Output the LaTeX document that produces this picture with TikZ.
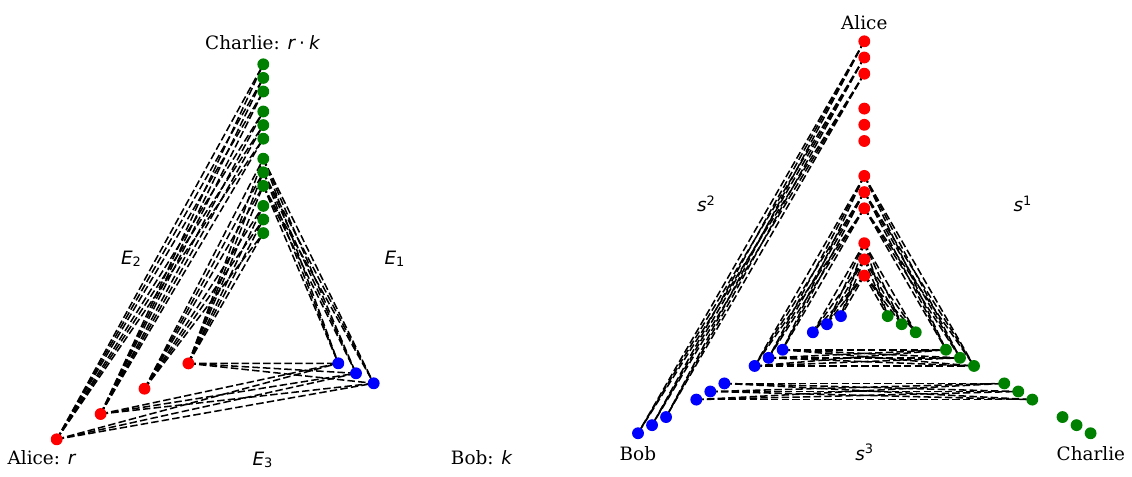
\documentclass[tikz,border=0pt]{standalone}
\usepackage{fontspec}
\setmainfont{DejaVu Serif}
\newfontfamily\msans{DejaVu Sans}[ItalicFont={DejaVu Sans Oblique}]
\usetikzlibrary{backgrounds,calc}
\newcommand\mvar[1]{{\msans\itshape #1}}
\newcommand\msub[2]{\mvar{#1}\raisebox{-0.15em}{\msans\fontsize{9.7}{10}\selectfont #2}}
\newcommand\msup[2]{\mvar{#1}\raisebox{0.36em}{\msans\fontsize{9.7}{10}\selectfont #2}}
\begin{document}
\begin{tikzpicture}[x=0.75pt,y=-0.75pt,
  font=\fontsize{13.8}{16}\selectfont,
  dot/.style={circle,inner sep=0pt,minimum size=8.9pt,draw=none},
  rdot/.style={dot,fill=red},
  gdot/.style={dot,fill={rgb,255:red,0;green,128;blue,0}},
  bdot/.style={dot,fill=blue},
  edge/.style={line width=1.15pt,dash pattern=on 5.6pt off 2.4pt},
  lbl/.style={anchor=base,inner sep=0pt}]
\useasboundingbox (0,0) rectangle (1132,476);

% ---------------- left panel ----------------
\foreach \i in {0,...,3}
  \node[rdot] (LA\i) at ({56.7+43.9*\i},{439.3-25.3*\i}) {};
\foreach \j in {0,1,2}
  \node[bdot] (LB\j) at ({338.3+17.7*\j},{363.3+10*\j}) {};
\foreach \g in {0,...,3}
  \foreach \j in {0,1,2}
    \node[gdot] (LC\g-\j) at (263.3,{64.3+47.2*\g+13.6*\j}) {};

\begin{pgfonlayer}{background}
  \foreach \a in {0,1}
    \foreach \g in {0,1}
      \foreach \j in {0,1,2}
        \draw[edge] (LA\a.center) -- (LC\g-\j.center);
  \foreach \a in {2,3}
    \foreach \g in {2,3}
      \foreach \j in {0,1,2}
        \draw[edge] (LA\a.center) -- (LC\g-\j.center);
  \foreach \j in {0,1,2}
    \foreach \b in {0,1,2}
      \draw[edge] (LC2-\j.center) -- (LB\b.center);
  \foreach \a in {0,1,3}
    \foreach \b in {0,1,2}
      \draw[edge] (LA\a.center) -- (LB\b.center);
\end{pgfonlayer}

\node[lbl] (tLC) at (262.5,49.3) {Charlie: \mvar{r}\hspace{0.22em}{\msans ·}\hspace{0.22em}\mvar{k}};
\node[lbl] (tLA) at (41.5,464) {Alice: \mvar{r}};
\node[lbl] (tLB) at (481.5,464) {Bob: \mvar{k}};
\node[lbl] (tE2) at (131,264) {\msub{E}{2}};
\node[lbl] (tE1) at (394.5,264) {\msub{E}{1}};
\node[lbl] (tE3) at (262.5,465) {\msub{E}{3}};

% ---------------- right panel ----------------
% centre of the three spokes
\coordinate (RO) at (864.3,302.6);
\foreach \g in {0,...,3}
  \foreach \j in {0,1,2} {
    \pgfmathsetmacro\d{261.3-67.3*\g-16.2*\j}
    \pgfmathtruncatemacro\h{3-\g}
    \pgfmathtruncatemacro\k{2-\j}
    \node[rdot] (RA\g-\j) at ($(RO)+(0,-\d)$) {};
    \node[bdot] (RB\g-\j) at ($(RO)+({-0.866*\d},{0.5*\d})$) {};
    \node[gdot] (RC\h-\k) at ($(RO)+({0.866*\d},{0.5*\d})$) {};
  }

\begin{pgfonlayer}{background}
  \foreach \p/\q in {RA0/RB0, RA2/RB2, RA2/RC1, RB2/RC1, RA3/RB3, RA3/RC0, RB1/RC2}
    \foreach \i in {0,1,2}
      \foreach \k in {0,1,2}
        \draw[edge] (\p-\i.center) -- (\q-\k.center);
\end{pgfonlayer}

\node[lbl] (tRA) at (864.3,29.5) {Alice};
\node[lbl] (tRB) at (637.9,460.5) {Bob};
\node[lbl] (tRC) at (1090.9,460.5) {Charlie};
\node[lbl] (ts2) at (706,211.7) {\msup{s}{2}};
\node[lbl] (ts1) at (1022.5,211.7) {\msup{s}{1}};
\node[lbl] (ts3) at (864.3,460.5) {\msup{s}{3}};
\end{tikzpicture}
\end{document}
